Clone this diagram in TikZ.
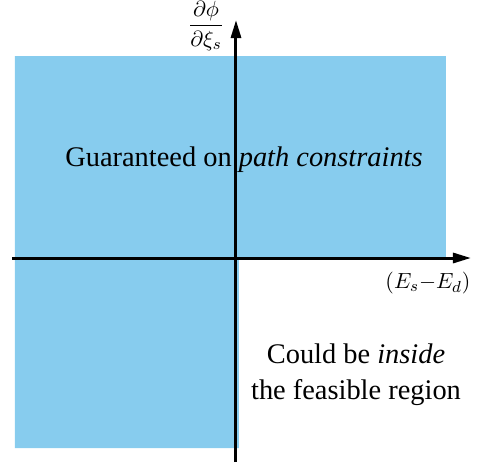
\documentclass[tikz,border=0pt]{standalone}
\usepackage{amsmath}
\usepackage{fontspec}
\setmainfont{Liberation Serif}
\usetikzlibrary{arrows.meta}
\definecolor{regionblue}{RGB}{135,204,238}
\begin{document}
\begin{tikzpicture}[x=0.5pt,y=-0.5pt,
  axis/.style={line width=1.5pt,-{Triangle[length=9pt,width=5pt]}},
  lbl/.style={font=\fontsize{14.2pt}{17pt}\selectfont,inner sep=0pt},
  axlbl/.style={font=\fontsize{11pt}{13pt}\selectfont,inner sep=0pt}]
\useasboundingbox (0,0) rectangle (479,463);
\fill[regionblue] (15,56) -- (446,56) -- (446,259) -- (239,259) -- (239,448) -- (15,448) -- cycle;
\coordinate (xs) at (12,258);
\coordinate (xe) at (471,258);
\coordinate (ys) at (236,462);
\coordinate (ye) at (236,20);
\draw[axis] (xs) -- (xe);
\draw[axis] (ys) -- (ye);
\node[axlbl] (ylab) at (206,26) {$\dfrac{\partial\phi}{\partial\xi_s}$};
\node[axlbl] (xlab) at (428,283) {$(E_s{-}E_d)$};
\node[lbl] (guar) at (244,160) {Guaranteed on \textit{path constraints}};
\node[lbl,align=center] (could) at (356,375) {Could be \textit{inside}\\[1pt]the feasible region};
\end{tikzpicture}
\end{document}
